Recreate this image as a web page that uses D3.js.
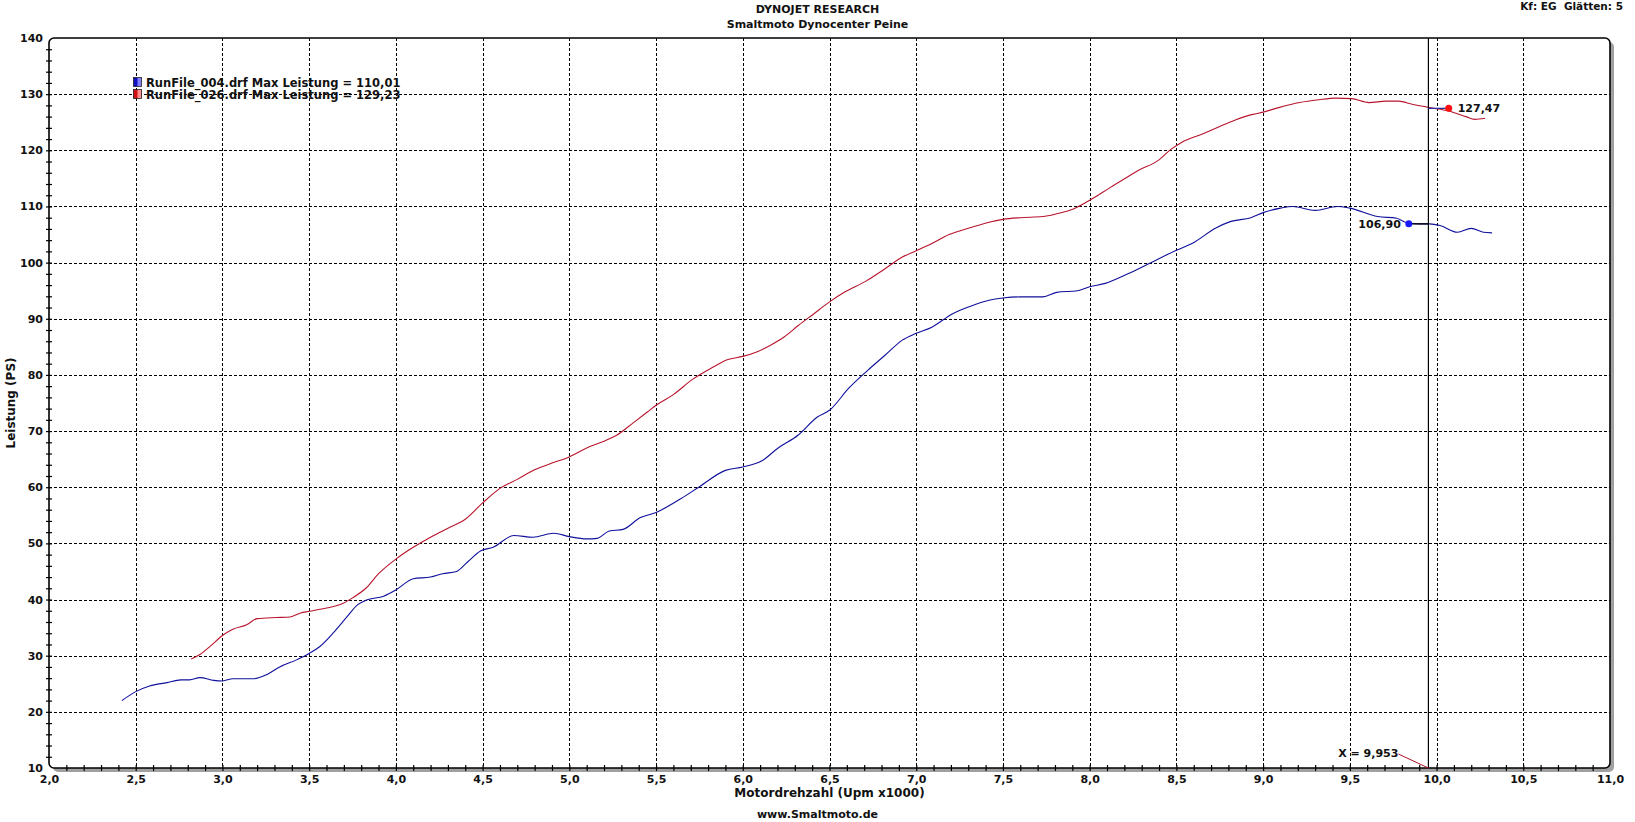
<!DOCTYPE html>
<html>
<head>
<meta charset="utf-8">
<script src="https://cdn.jsdelivr.net/npm/d3@7"></script>
<style>
  body { margin: 0; background: #fff; }
  svg { display: block; font-family: "DejaVu Sans", Verdana, sans-serif; font-weight: bold; }
</style>
</head>
<body>
<script>
// run data (rpm x1000 / PS)
var rpm004 = [2.42,2.5,2.58,2.68,2.76,2.81,2.87,2.95,3.0,3.06,3.18,3.26,3.33,3.43,3.5,3.56,3.64,3.72,3.78,3.83,3.93,
  4.0,4.1,4.2,4.27,4.35,4.41,4.49,4.56,4.68,4.79,4.91,5.0,5.1,5.16,5.23,5.31,5.41,5.5,5.64,5.75,5.9,
  6.0,6.11,6.2,6.32,6.43,6.5,6.61,6.72,6.82,6.92,7.0,7.09,7.21,7.31,7.42,7.5,7.6,7.73,7.81,7.93,
  8.0,8.09,8.22,8.34,8.5,8.59,8.73,8.81,8.93,9.0,9.1,9.17,9.3,9.43,9.5,9.66,9.77,9.82,9.9,9.96,10.02,10.12,10.2,10.27,10.32];
var ps004 = [22.0,23.6,24.6,25.2,25.7,25.7,26.1,25.6,25.5,25.9,25.9,26.7,28.0,29.3,30.4,31.6,34.1,37.0,39.1,39.9,40.6,
  41.7,43.7,44.0,44.6,45.0,46.6,48.7,49.3,51.4,51.1,51.8,51.2,50.8,50.9,52.2,52.5,54.6,55.5,57.9,60.1,63.0,
  63.6,64.7,66.9,69.3,72.5,73.7,77.6,80.8,83.5,86.2,87.4,88.5,90.9,92.2,93.3,93.7,93.9,93.9,94.7,95.0,
  95.7,96.3,98.0,99.8,102.2,103.4,106.2,107.3,108.0,108.9,109.7,110.0,109.3,110.0,109.7,108.2,107.9,107.2,106.9,106.9,106.6,105.4,106.1,105.4,105.3];

var rpm026 = [2.82,2.87,2.93,3.0,3.06,3.14,3.2,3.31,3.39,3.45,3.5,3.6,3.68,3.75,3.83,3.9,
  4.0,4.1,4.2,4.3,4.4,4.5,4.6,4.7,4.8,4.9,5.0,5.1,5.2,5.27,5.37,5.45,5.5,5.6,5.71,5.83,5.91,
  6.0,6.08,6.16,6.24,6.32,6.41,6.5,6.59,6.71,6.82,6.92,7.0,7.09,7.19,7.31,7.42,7.5,7.6,7.73,7.81,7.91,
  8.0,8.12,8.22,8.28,8.4,8.47,8.53,8.65,8.74,8.84,8.94,9.0,9.09,9.21,9.32,9.42,9.51,9.61,9.71,9.78,9.86,9.96,10.07,10.17,10.22,10.28];
var ps026 = [29.4,30.2,31.7,33.6,34.7,35.5,36.6,36.8,36.9,37.6,37.9,38.5,39.1,40.3,42.1,44.6,
  47.2,49.3,51.1,52.7,54.3,57.2,59.8,61.4,63.1,64.3,65.4,67.0,68.2,69.2,71.5,73.4,74.6,76.5,79.2,81.4,82.7,
  83.3,84.1,85.3,86.8,88.8,90.9,93.0,94.8,96.7,98.9,101.0,102.1,103.4,105.0,106.2,107.2,107.7,108.0,108.2,108.7,109.6,
  111.1,113.4,115.3,116.4,118.3,120.2,121.4,122.9,124.1,125.4,126.4,126.8,127.6,128.5,129.0,129.3,129.2,128.5,128.75,128.75,128.2,127.6,127.0,126.0,125.5,125.7];

var legendLabels = ["RunFile_004.drf Max Leistung = 110,01", "RunFile_026.drf Max Leistung = 129,23"];
var cursorRpm = 9.953;
var markerRpm = [9.84, 10.07];
var markerPs = [106.90, 127.47];
var xTicks = d3.range(2, 11.01, 0.5);
var yTicks = d3.range(10, 141, 10);

var W = 1635, H = 822;
var pL = 49, pR = 1610, pT = 38, pB = 768;

var svg = d3.select("body").append("svg")
  .attr("width", W)
  .attr("height", H);

var x = d3.scaleLinear().domain([2, 11]).range([pL, pR]);
var y = d3.scaleLinear().domain([10, 140]).range([pB, pT]);
var comma = function(f){ return function(d){ return d3.format(f)(d).replace(".", ","); }; };

// shadow + frame
svg.append("rect")
  .attr("x", pL + 4).attr("y", pT + 4)
  .attr("width", pR - pL).attr("height", pB - pT)
  .attr("rx", 5).attr("fill", "#a0a0a0");
svg.append("rect")
  .attr("x", pL).attr("y", pT)
  .attr("width", pR - pL).attr("height", pB - pT)
  .attr("rx", 5).attr("fill", "#fff");

// dashed grid
var grid = svg.append("g").attr("stroke", "#000").attr("stroke-width", 1).attr("stroke-dasharray", "3,2");
grid.selectAll("line.gx")
  .data(xTicks.slice(1, -1))
  .enter().append("line")
    .attr("x1", function(d){ return Math.round(x(d)) + 0.5; })
    .attr("x2", function(d){ return Math.round(x(d)) + 0.5; })
    .attr("y1", pT).attr("y2", pB);
grid.selectAll("line.gy")
  .data(yTicks.slice(1, -1))
  .enter().append("line")
    .attr("x1", pL).attr("x2", pR)
    .attr("y1", function(d){ return Math.round(y(d)) + 0.5; })
    .attr("y2", function(d){ return Math.round(y(d)) + 0.5; });

svg.append("rect")
  .attr("x", pL).attr("y", pT)
  .attr("width", pR - pL).attr("height", pB - pT)
  .attr("rx", 5).attr("fill", "none")
  .attr("stroke", "#000").attr("stroke-width", 1.6);

// axes: minor ticks crossing the frame, labels
var xMinor = svg.append("g").attr("transform", "translate(0," + (pB + 3) + ")")
  .call(d3.axisBottom(x).tickValues(d3.range(2.1, 10.95, 0.1)).tickSize(-6).tickFormat(""));
var yMinor = svg.append("g").attr("transform", "translate(" + (pL + 3) + ",0)")
  .call(d3.axisLeft(y).tickValues(d3.range(12, 139, 2)).tickSize(6).tickFormat(""));
[xMinor, yMinor].forEach(function(g){
  g.select(".domain").remove();
  g.selectAll("line").attr("stroke", "#000").attr("stroke-width", 1.2);
});

var xAxis = svg.append("g").attr("transform", "translate(0," + pB + ")")
  .call(d3.axisBottom(x).tickValues(xTicks).tickSize(0).tickPadding(7).tickFormat(comma(".1f")));
var yAxis = svg.append("g").attr("transform", "translate(" + pL + ",0)")
  .call(d3.axisLeft(y).tickValues(yTicks).tickSize(0).tickPadding(6).tickFormat(d3.format("d")));
[xAxis, yAxis].forEach(function(g){
  g.select(".domain").remove();
  g.selectAll("text").attr("font-size", 11).attr("font-family", "DejaVu Sans").attr("font-weight", "bold").attr("fill", "#111");
});

// curves
var line = d3.line()
  .x(function(d){ return x(d[0]); })
  .y(function(d){ return y(d[1]); })
  .curve(d3.curveMonotoneX);

svg.append("path")
  .attr("fill", "none").attr("stroke", "#b8142c").attr("stroke-width", 1.1)
  .attr("d", line(d3.zip(rpm026, ps026)));
svg.append("path")
  .attr("fill", "none").attr("stroke", "#10109c").attr("stroke-width", 1.1)
  .attr("d", line(d3.zip(rpm004, ps004)));

// cursor
svg.append("line")
  .attr("x1", x(cursorRpm)).attr("x2", x(cursorRpm))
  .attr("y1", pT).attr("y2", pB)
  .attr("stroke", "#000").attr("stroke-width", 1.2);
svg.append("line")
  .attr("x1", x(cursorRpm) - 30).attr("y1", pB - 14)
  .attr("x2", x(cursorRpm)).attr("y2", pB)
  .attr("stroke", "#b0102a").attr("stroke-width", 1);
svg.append("text")
  .attr("x", x(cursorRpm) - 30).attr("y", pB - 11)
  .attr("text-anchor", "end").attr("font-size", 11).attr("fill", "#111")
  .text("X = " + comma(".3f")(cursorRpm));

// cursor readouts
var markerCol = ["#1a1aff", "#ff1010"];
var leaderCol = ["#000", "#3030a0"];
markerRpm.forEach(function(r, i){
  svg.append("line")
    .attr("x1", x(cursorRpm)).attr("x2", x(r))
    .attr("y1", y(markerPs[i])).attr("y2", y(markerPs[i]))
    .attr("stroke", leaderCol[i]).attr("stroke-width", 1.3);
  svg.append("circle")
    .attr("cx", x(r)).attr("cy", y(markerPs[i])).attr("r", 3.5)
    .attr("fill", markerCol[i]);
  svg.append("text")
    .attr("x", i == 0 ? x(r) - 8 : x(r) + 9)
    .attr("y", y(markerPs[i]) + 4)
    .attr("text-anchor", i == 0 ? "end" : "start")
    .attr("font-size", 11).attr("fill", "#111")
    .text(comma(".2f")(markerPs[i]));
});

// legend
var defs = svg.append("defs");
var legCols = [["#1010c0", "#8080ff"], ["#d01010", "#ff9090"]];
legCols.forEach(function(c, i){
  var g = defs.append("linearGradient").attr("id", "lg" + i);
  g.append("stop").attr("offset", "0%").attr("stop-color", c[0]);
  g.append("stop").attr("offset", "45%").attr("stop-color", c[0]);
  g.append("stop").attr("offset", "55%").attr("stop-color", c[1]);
  g.append("stop").attr("offset", "100%").attr("stop-color", c[1]);
});
legendLabels.forEach(function(t, i){
  svg.append("rect")
    .attr("x", 133.5).attr("y", 77.5 + i * 12)
    .attr("width", 8).attr("height", 9)
    .attr("fill", "url(#lg" + i + ")").attr("stroke", "#222").attr("stroke-width", 0.8);
  svg.append("text")
    .attr("x", 146).attr("y", 87 + i * 12)
    .attr("font-size", 11.5).attr("fill", "#111")
    .text(t);
});

// titles
svg.append("text").attr("x", W / 2).attr("y", 13).attr("text-anchor", "middle")
  .attr("font-size", 11).attr("fill", "#111").text("DYNOJET RESEARCH");
svg.append("text").attr("x", W / 2).attr("y", 28).attr("text-anchor", "middle")
  .attr("font-size", 11).attr("fill", "#111").text("Smaltmoto Dynocenter Peine");
svg.append("text").attr("x", 1623).attr("y", 10).attr("text-anchor", "end")
  .attr("font-size", 10.5).attr("fill", "#111").attr("xml:space", "preserve").text("Kf: EG  Glätten: 5");
svg.append("text").attr("x", (pL + pR) / 2).attr("y", 797).attr("text-anchor", "middle")
  .attr("font-size", 12).attr("fill", "#111").text("Motordrehzahl (Upm x1000)");
svg.append("text").attr("x", W / 2).attr("y", 818).attr("text-anchor", "middle")
  .attr("font-size", 11).attr("fill", "#111").text("www.Smaltmoto.de");
svg.append("text")
  .attr("transform", "translate(15," + ((pT + pB) / 2) + ") rotate(-90)")
  .attr("text-anchor", "middle").attr("font-size", 12).attr("fill", "#111")
  .text("Leistung (PS)");
</script>
</body>
</html>
